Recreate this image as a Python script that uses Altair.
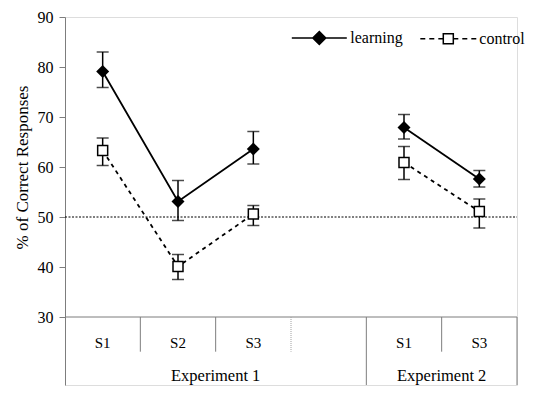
import altair as alt
import pandas as pd

# ---- data ----
bands = ["S1", "S2", "S3", "", "S1", "S3"]
band_experiment = ["Experiment 1"] * 4 + ["Experiment 2"] * 2
point_band = [0, 1, 2, 4, 5]

learning_mean = [79.1, 53.1, 63.6, 67.9, 57.6]
learning_lo = [75.9, 49.3, 60.6, 65.6, 56.0]
learning_hi = [83.0, 57.3, 67.1, 70.5, 59.3]

control_mean = [63.3, 40.1, 50.6, 60.9, 51.1]
control_lo = [60.3, 37.5, 48.3, 57.5, 47.8]
control_hi = [65.8, 42.5, 52.3, 64.1, 53.6]

series_names = ["learning", "control"]
y_ticks = [30, 40, 50, 60, 70, 80, 90]
chance_level = [50]

# ---- layout constants ----
FONT = "Liberation Serif"
X_MIN, X_MAX = 0, len(bands)
Y_MIN, Y_MAX = 16.4, 90
Y_FLOOR = 30
Y_BAND_LABEL = 24.9
Y_SHORT_DIV = 23.06
Y_GROUP_LABEL = 18.3
GRAY = "#7d7d7d"

rows = []
for name, m, lo, hi in [("learning", learning_mean, learning_lo, learning_hi),
                        ("control", control_mean, control_lo, control_hi)]:
    for b, v, l, h in zip(point_band, m, lo, hi):
        rows.append({"series": name, "pos": b + 0.5, "experiment": band_experiment[b],
                     "value": v, "lo": l, "hi": h})
df = pd.DataFrame(rows)

xs = alt.Scale(domain=[X_MIN, X_MAX], nice=False, zero=False)
ys = alt.Scale(domain=[Y_MIN, Y_MAX], nice=False, zero=False)


def X(field):
    return alt.X(field, scale=xs, axis=None)


yaxis = alt.Axis(values=y_ticks, title="% of Correct Responses", grid=False,
                 labelFont=FONT, labelFontSize=16, labelColor="black", labelPadding=6,
                 tickSize=6, tickColor=GRAY, domainColor=GRAY,
                 titleFont=FONT, titleFontSize=17, titleFontWeight="normal", titleColor="black",
                 titleX=-43, titleY=150, titleBaseline="middle", titleAlign="center", titleAngle=270)

base = alt.Chart(df)
learn = base.transform_filter(alt.datum.series == "learning")
ctrl = base.transform_filter(alt.datum.series == "control")

line_l = learn.mark_line(color="black", strokeWidth=1.8).encode(
    x=X("pos:Q"), y=alt.Y("value:Q", scale=ys, axis=yaxis), detail="experiment:N")
line_c = ctrl.mark_line(color="black", strokeWidth=1.8, strokeDash=[4, 4]).encode(
    x=X("pos:Q"), y=alt.Y("value:Q", scale=ys), detail="experiment:N")

err = base.mark_rule(color="black", strokeWidth=1.5).encode(
    x=X("pos:Q"), y=alt.Y("lo:Q", scale=ys), y2="hi:Q")
caps = base.transform_fold(["lo", "hi"], as_=["end", "cap"]).mark_tick(
    orient="horizontal", size=12, thickness=1.5, color="black").encode(
    x=X("pos:Q"), y=alt.Y("cap:Q", scale=ys))

pts_l = learn.mark_point(shape="diamond", filled=True, size=169, color="black", opacity=1).encode(
    x=X("pos:Q"), y=alt.Y("value:Q", scale=ys))
pts_c = ctrl.mark_point(shape="square", filled=True, fill="white", stroke="black",
                        strokeWidth=1.5, size=100, opacity=1).encode(
    x=X("pos:Q"), y=alt.Y("value:Q", scale=ys))

ref = alt.Chart(pd.DataFrame({"v": chance_level, "x0": [X_MIN], "x1": [X_MAX]})).mark_rule(
    color="black", strokeWidth=1, strokeDash=[2, 1.5]).encode(
    y=alt.Y("v:Q", scale=ys), x=X("x0:Q"), x2="x1:Q")
floor = alt.Chart(pd.DataFrame({"v": [Y_FLOOR], "x0": [X_MIN], "x1": [X_MAX]})).mark_rule(
    color=GRAY, strokeWidth=1).encode(
    y=alt.Y("v:Q", scale=ys), x=X("x0:Q"), x2="x1:Q")

# bottom category frame: dividers between bands / groups
solid_rows, dotted_rows = [], []
for e in range(1, len(bands) + 1):
    group_end = e == len(bands) or band_experiment[e] != band_experiment[e - 1]
    before_empty = e < len(bands) and bands[e] == ""
    row = {"edge": e, "start": Y_FLOOR, "end": Y_MIN if group_end else Y_SHORT_DIV}
    (dotted_rows if before_empty else solid_rows).append(row)
div_solid = alt.Chart(pd.DataFrame(solid_rows)).mark_rule(color=GRAY, strokeWidth=1).encode(
    x=X("edge:Q"), y=alt.Y("start:Q", scale=ys), y2="end:Q")
div_dot = alt.Chart(pd.DataFrame(dotted_rows)).mark_rule(
    color="#a0a0a0", strokeWidth=1, strokeDash=[1, 1]).encode(
    x=X("edge:Q"), y=alt.Y("start:Q", scale=ys), y2="end:Q")

band_df = pd.DataFrame({"pos": [i + 0.5 for i in range(len(bands))], "label": bands,
                        "ty": [Y_BAND_LABEL] * len(bands)})
band_text = alt.Chart(band_df).mark_text(font=FONT, fontSize=15, color="black",
                                         baseline="middle").encode(
    x=X("pos:Q"), y=alt.Y("ty:Q", scale=ys), text="label:N")

grp = []
for g in dict.fromkeys(band_experiment):
    idx = [i for i, e in enumerate(band_experiment) if e == g]
    grp.append({"pos": (idx[0] + idx[-1] + 1) / 2, "label": g, "ty": Y_GROUP_LABEL})
grp_text = alt.Chart(pd.DataFrame(grp)).mark_text(font=FONT, fontSize=16.5, color="black",
                                                  baseline="middle").encode(
    x=X("pos:Q"), y=alt.Y("ty:Q", scale=ys), text="label:N")

# legend: the library's legend, with line+marker symbols as custom paths
path_learning = "M-1.279,0L1.279,0M0,-0.302L0.302,0L0,0.302L-0.302,0Z"
path_control = ("M-1.302,0L-1.07,0M-0.884,0L-0.651,0M-0.465,0L-0.233,0"
                "M-0.233,-0.233L0.233,-0.233L0.233,0.233L-0.233,0.233Z "
                "M0.233,0L0.465,0M0.651,0L0.884,0M1.07,0L1.302,0")
leg = alt.Legend(orient="none", legendX=231.8, legendY=-1.5, direction="horizontal",
                 title=None, symbolSize=1849, symbolStrokeWidth=1.5, symbolOpacity=1,
                 labelFont=FONT, labelFontSize=16, labelColor="black", labelOffset=8.5,
                 columnPadding=14, padding=0)
leg_df = pd.DataFrame({"series": series_names, "pos": [X_MIN, X_MIN], "v": [Y_MAX, Y_MAX]})
legend_layer = alt.Chart(leg_df).mark_point(
    filled=True, opacity=0, strokeWidth=1.5).encode(
    x=X("pos:Q"), y=alt.Y("v:Q", scale=ys),
    shape=alt.Shape("series:N", scale=alt.Scale(domain=series_names,
                                                range=[path_learning, path_control]),
                    legend=leg),
    fill=alt.Fill("series:N", scale=alt.Scale(domain=series_names, range=["black", "white"]),
                  legend=leg),
    stroke=alt.Stroke("series:N", scale=alt.Scale(domain=series_names, range=["black", "black"]),
                      legend=leg),
)

chart = alt.layer(
    floor, div_solid, div_dot, band_text, grp_text, ref,
    line_l, line_c, err, caps, pts_l, pts_c, legend_layer
).properties(
    width=452, height=368,
    autosize=alt.AutoSizeParams(type="none"),
    padding={"left": 57, "top": 9, "right": 10, "bottom": 10},
).configure_view(strokeWidth=0).configure(font=FONT)

chart.save("out.html", embed_options={"renderer": "svg", "actions": False})
